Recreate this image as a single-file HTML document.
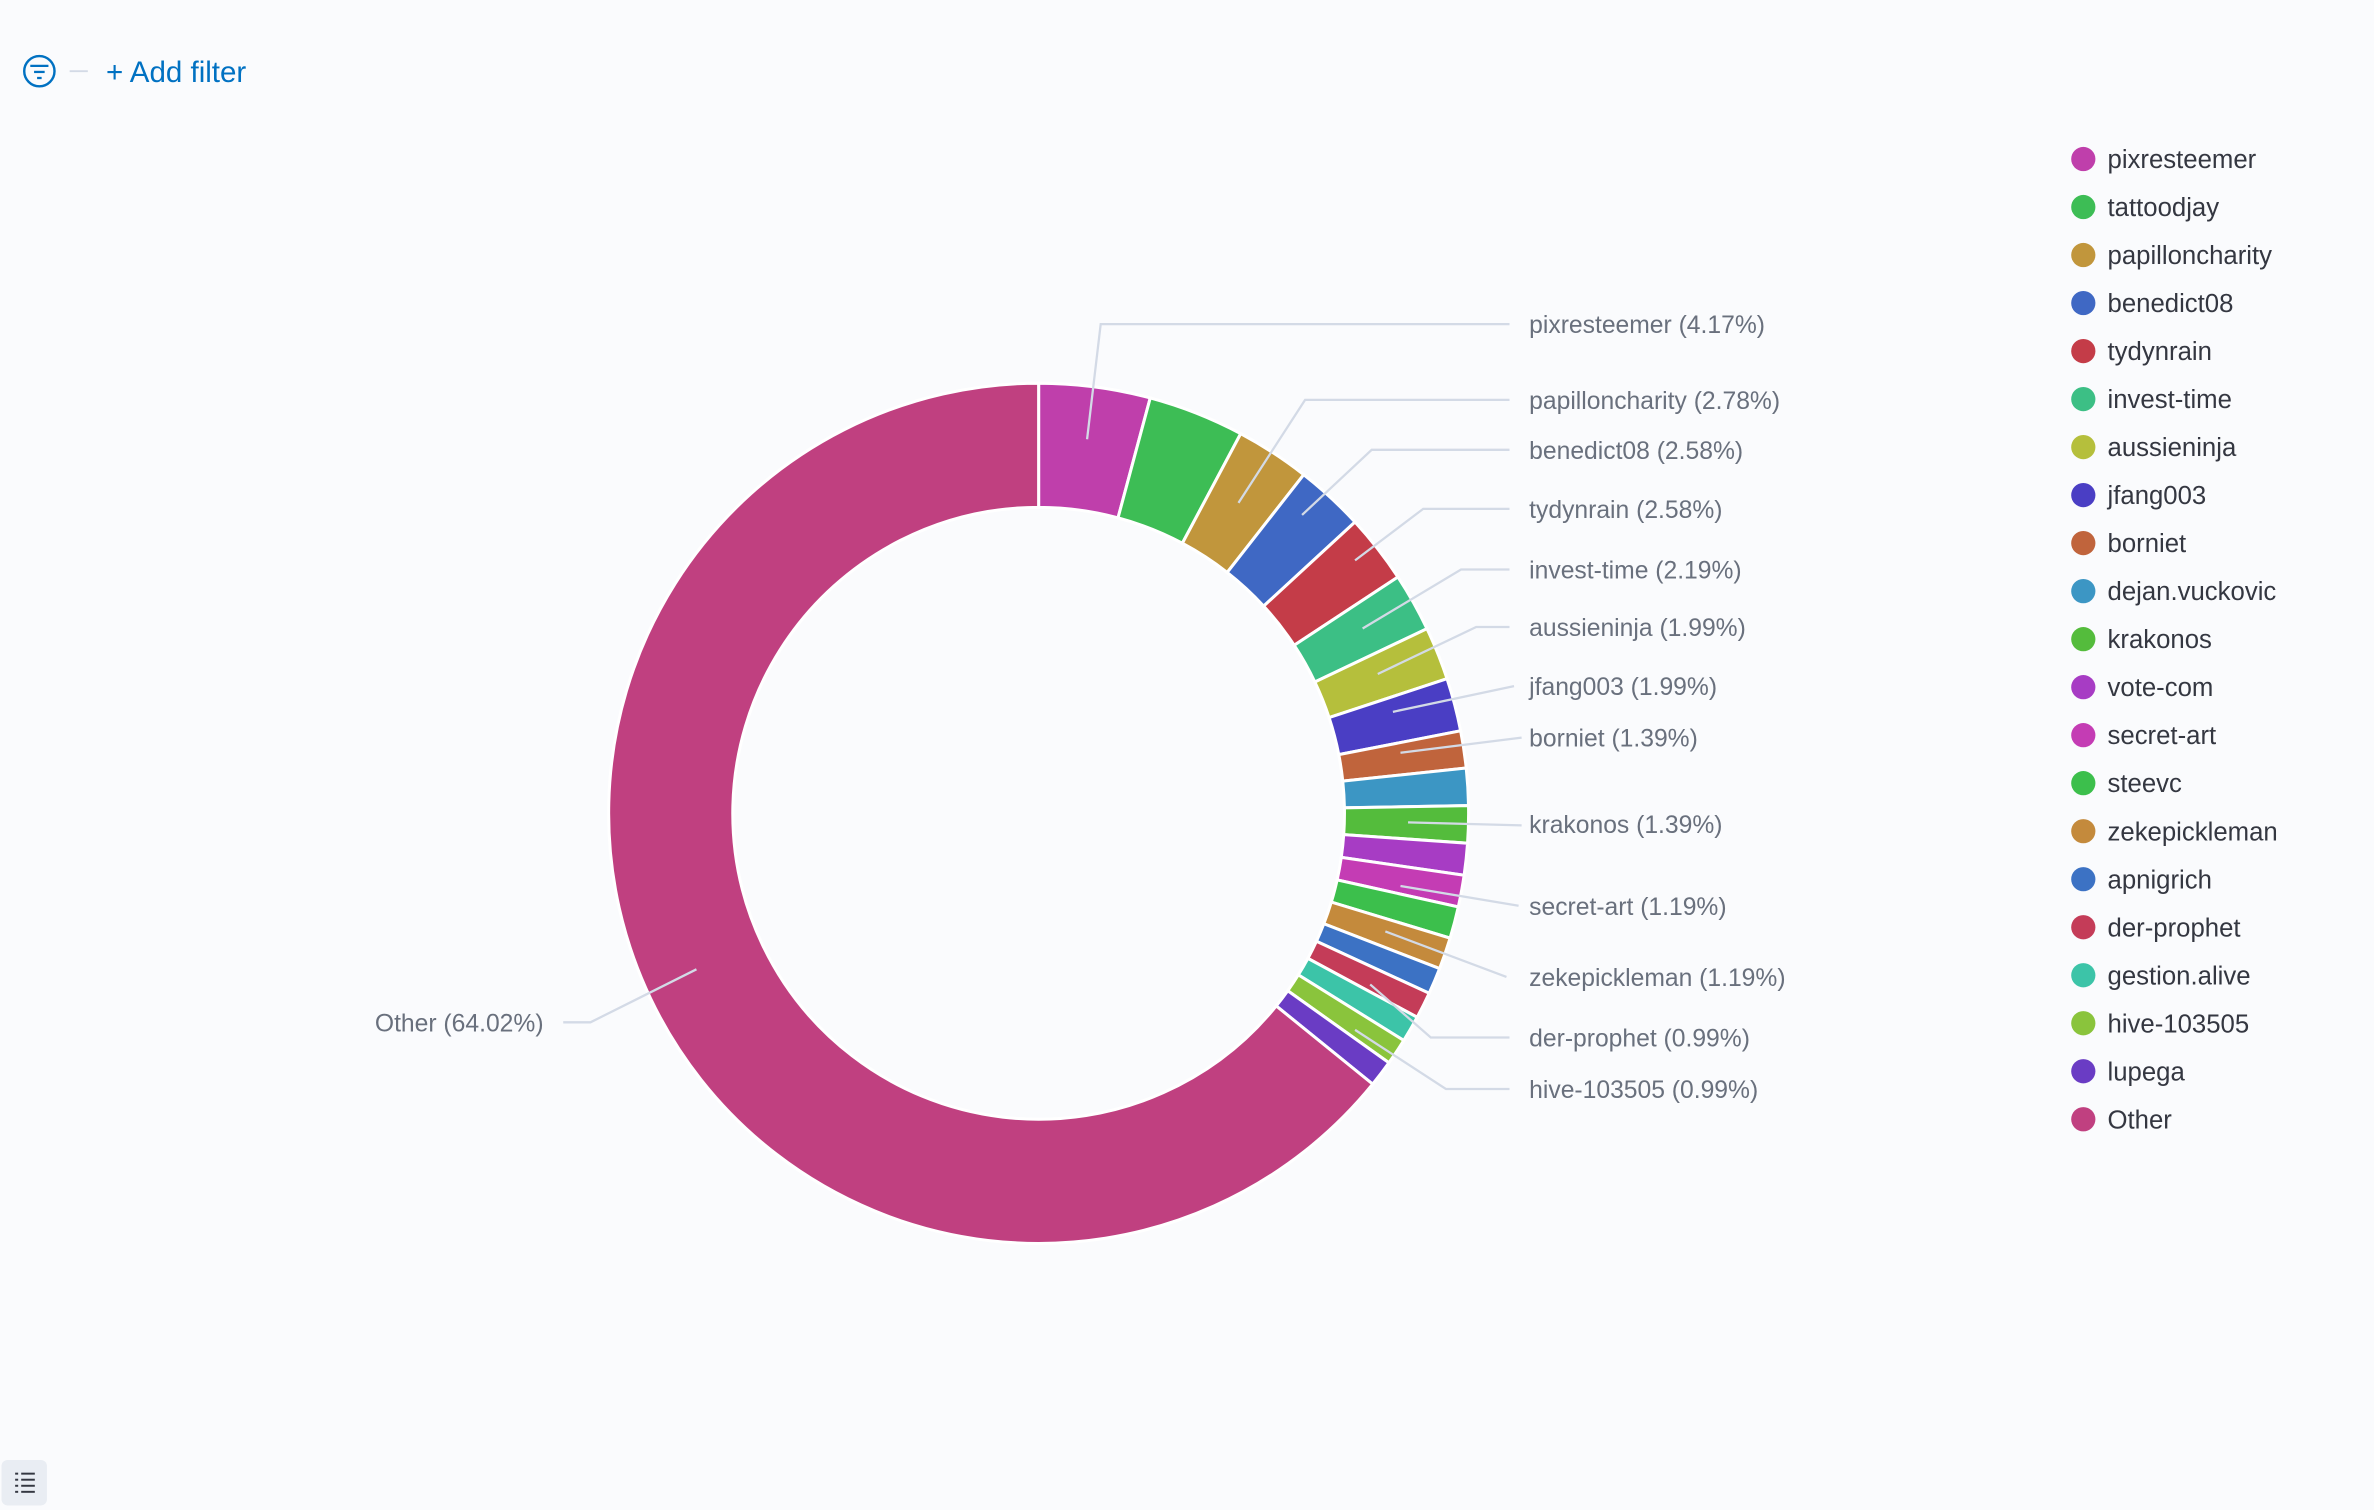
<!DOCTYPE html>
<html><head><meta charset="utf-8">
<style>
html,body{margin:0;padding:0;background:#fafbfd;}
body{width:2374px;height:1510px;overflow:hidden;font-family:"Liberation Sans",sans-serif;}
svg{display:block}
</style></head>
<body>
<svg id="s" width="2374" height="1510" viewBox="0 0 1568 997" preserveAspectRatio="none" xmlns="http://www.w3.org/2000/svg">
<rect width="1568" height="997" fill="#fafbfd"/>
<circle cx="26" cy="47" r="10" fill="none" stroke="#0071c2" stroke-width="1.6"/>
<line x1="20" y1="43.5" x2="32" y2="43.5" stroke="#0071c2" stroke-width="1.5"/>
<line x1="22.5" y1="47.5" x2="29.5" y2="47.5" stroke="#0071c2" stroke-width="1.5"/>
<line x1="24.5" y1="51.5" x2="27.5" y2="51.5" stroke="#0071c2" stroke-width="1.5"/>
<line x1="46" y1="47" x2="58" y2="47" stroke="#d3dae6" stroke-width="1.2"/>
<text x="70" y="54" font-size="19.5" fill="#0071c2">+ Add filter</text>
<rect x="1" y="964" width="30" height="30" rx="4" fill="#e9edf3"/>
<g stroke="#343741" stroke-width="1.3">
<line x1="10" y1="973" x2="12" y2="973"/><line x1="14" y1="973" x2="23" y2="973"/>
<line x1="10" y1="977" x2="12" y2="977"/><line x1="14" y1="977" x2="23" y2="977"/>
<line x1="10" y1="981" x2="12" y2="981"/><line x1="14" y1="981" x2="23" y2="981"/>
<line x1="10" y1="985" x2="12" y2="985"/><line x1="14" y1="985" x2="23" y2="985"/>
</g>
<g id="pie"></g>
<g fill="none" stroke="#d3dae6" stroke-width="1.5">
<polyline points="718,290 727,214 997,214"/>
<polyline points="818,332 862,264 997,264"/>
<polyline points="860,340 906,297 997,297"/>
<polyline points="895,370 940,336 997,336"/>
<polyline points="900,415 965,376 997,376"/>
<polyline points="910,445 975,414 997,414"/>
<polyline points="920,470 1000,453"/>
<polyline points="925,497 1005,487"/>
<polyline points="930,543 1005,545"/>
<polyline points="925,585 1003,598"/>
<polyline points="915,615 995,645"/>
<polyline points="905,650 945,685 997,685"/>
<polyline points="895,680 955,719 997,719"/>
<polyline points="460,640 390,675 372,675"/>
</g>
<g font-size="16.3" fill="#69707d">
<text x="1010" y="220">pixresteemer (4.17%)</text>
<text x="1010" y="270">papilloncharity (2.78%)</text>
<text x="1010" y="303">benedict08 (2.58%)</text>
<text x="1010" y="342">tydynrain (2.58%)</text>
<text x="1010" y="382">invest-time (2.19%)</text>
<text x="1010" y="420">aussieninja (1.99%)</text>
<text x="1010" y="459">jfang003 (1.99%)</text>
<text x="1010" y="493">borniet (1.39%)</text>
<text x="1010" y="550">krakonos (1.39%)</text>
<text x="1010" y="604">secret-art (1.19%)</text>
<text x="1010" y="651">zekepickleman (1.19%)</text>
<text x="1010" y="691">der-prophet (0.99%)</text>
<text x="1010" y="725">hive-103505 (0.99%)</text>
<text x="359" y="681" text-anchor="end">Other (64.02%)</text>
</g>
<g id="legend" font-size="17" fill="#343741"></g>
</svg>
<script>
var d=[["pixresteemer",4.17,"#bf3fab"],["tattoodjay",3.6,"#3dbd55"],["papilloncharity",2.78,"#c1963c"],["benedict08",2.58,"#3f68c4"],["tydynrain",2.58,"#c43c48"],["invest-time",2.19,"#3cbf85"],["aussieninja",1.99,"#b5bf3c"],["jfang003",1.99,"#4a3ec4"],["borniet",1.39,"#c0643c"],["dejan.vuckovic",1.39,"#3c96c4"],["krakonos",1.39,"#54bc3c"],["vote-com",1.19,"#a73cc4"],["secret-art",1.19,"#c43cb4"],["steevc",1.19,"#3cbf4c"],["zekepickleman",1.19,"#c48a3c"],["apnigrich",0.99,"#3c72c4"],["der-prophet",0.99,"#c43c58"],["gestion.alive",0.99,"#3cc4a8"],["hive-103505",0.99,"#8ac43c"],["lupega",0.99,"#6a3cc4"],["Other",64.02,"#c04080"]];
var tot=0;d.forEach(function(x){tot+=x[1]});
var cx=686,cy=537,R=284,r=202,a=0,h="";
function p(rad,ang){return [cx+rad*Math.sin(ang),cy-rad*Math.cos(ang)];}
d.forEach(function(x){var b=a+x[1]/tot*2*Math.PI;var l=(b-a)>Math.PI?1:0;
var p1=p(R,a),p2=p(R,b),p3=p(r,b),p4=p(r,a);
h+='<path d="M'+p1+' A'+R+','+R+' 0 '+l+' 1 '+p2+' L'+p3+' A'+r+','+r+' 0 '+l+' 0 '+p4+'Z" fill="'+x[2]+'" stroke="#fff" stroke-width="2"/>';a=b;});
document.getElementById("pie").innerHTML=h;
var g="";d.forEach(function(x,i){var y=105+i*31.7;g+='<circle cx="1376" cy="'+y+'" r="8" fill="'+x[2]+'"/><text x="1392" y="'+(y+6)+'">'+x[0]+'</text>';});
document.getElementById("legend").innerHTML=g;
</script>
</body></html>
